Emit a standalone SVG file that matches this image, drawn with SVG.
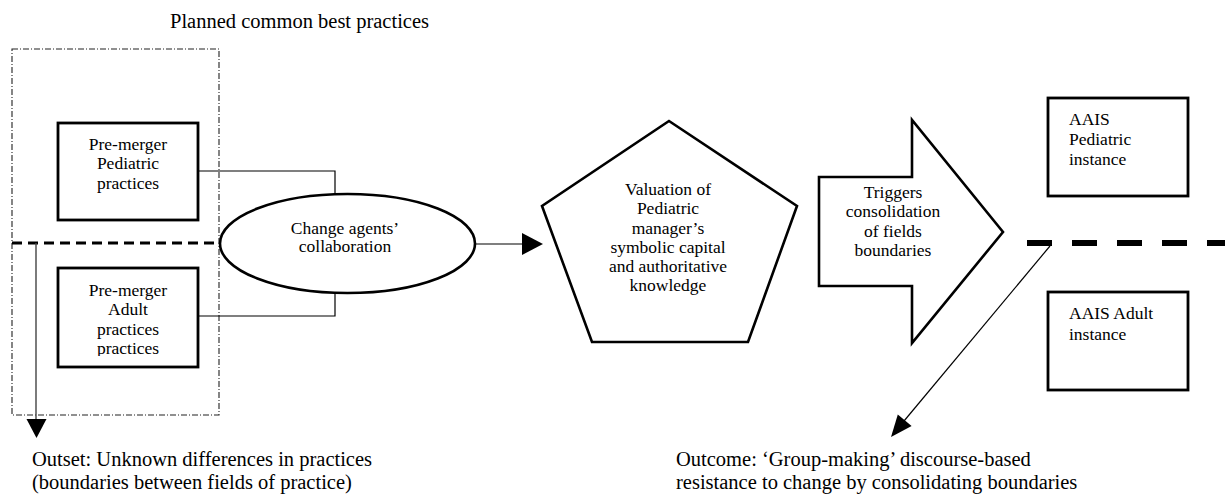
<svg xmlns="http://www.w3.org/2000/svg" width="1225" height="498" viewBox="0 0 1225 498">
<style>
text{font-family:"Liberation Serif","Times New Roman",serif;fill:#000}
.t{font-size:17.5px}
.big{font-size:20.5px}
.c{text-anchor:middle}
.box{fill:#fff;stroke:#000;stroke-width:2.8}
.shape{fill:#fff;stroke:#000;stroke-width:2.6}
.thin{fill:none;stroke:#000;stroke-width:1.2}
</style>
<defs>
<clipPath id="adultClip"><rect x="58" y="268" width="140" height="88"/></clipPath>
</defs>
<rect width="1225" height="498" fill="#fff"/>
<text class="big" x="170" y="28">Planned common best practices</text>
<g id="planned-frame">
<rect x="12" y="49" width="207" height="366" fill="none" stroke="#222" stroke-width="1.1" stroke-dasharray="6,2,1,2"/>
</g>
<g id="connectors">
<polyline class="thin" points="198,171 335,171 335,194"/>
<polyline class="thin" points="198,316 335,316 335,293"/>
<line x1="12" y1="243" x2="220" y2="243" stroke="#000" stroke-width="2.8" stroke-dasharray="10,6"/>
<line x1="36" y1="243" x2="36" y2="420" stroke="#444" stroke-width="1.4"/>
<polygon points="26.5,419 46.5,419 36.5,438" fill="#000"/>
<line class="thin" x1="475" y1="244" x2="523" y2="244"/>
<polygon points="522,233 543,244 522,255" fill="#000"/>
<line x1="1027" y1="243" x2="1225" y2="243" stroke="#000" stroke-width="6" stroke-dasharray="25,20"/>
<line class="thin" x1="1050" y1="246" x2="899" y2="427"/>
<polygon points="891,437 897.8,414.4 911.6,425.9" fill="#000"/>
</g>
<g id="pediatric-premerger">
<rect class="box" x="58" y="123" width="140" height="97"/>
<text class="t c" x="128" y="150">Pre-merger</text>
<text class="t c" x="128" y="169.3">Pediatric</text>
<text class="t c" x="128" y="188.5">practices</text>
</g>
<g id="adult-premerger">
<rect class="box" x="58" y="268" width="140" height="99"/>
<g clip-path="url(#adultClip)">
<text class="t c" x="128" y="296">Pre-merger</text>
<text class="t c" x="128" y="315">Adult</text>
<text class="t c" x="128" y="334.5">practices</text>
<text class="t c" x="128" y="354">practices</text>
</g>
</g>
<g id="change-agents">
<ellipse class="shape" cx="347.5" cy="243.5" rx="127.5" ry="49.5"/>
<text class="t c" x="345" y="234">Change agents’</text>
<text class="t c" x="345" y="252">collaboration</text>
</g>
<g id="valuation">
<polygon class="shape" points="669,121 797,206 748,342 592,342 542,206"/>
<text class="t c" x="668" y="195">Valuation of</text>
<text class="t c" x="668" y="214.3">Pediatric</text>
<text class="t c" x="668" y="233.5">manager’s</text>
<text class="t c" x="668" y="252.5">symbolic capital</text>
<text class="t c" x="668" y="271.7">and authoritative</text>
<text class="t c" x="668" y="290.8">knowledge</text>
</g>
<g id="triggers">
<polygon class="shape" points="819,177 912,177 912,120 1003,232 912,343 912,286 819,286"/>
<text class="t c" x="893" y="197.7">Triggers</text>
<text class="t c" x="893" y="217.2">consolidation</text>
<text class="t c" x="893" y="236.6">of fields</text>
<text class="t c" x="893" y="256">boundaries</text>
</g>
<g id="aais-pediatric">
<rect class="box" x="1048" y="98" width="140" height="98"/>
<text class="t" x="1069" y="125">AAIS</text>
<text class="t" x="1069" y="145">Pediatric</text>
<text class="t" x="1069" y="165">instance</text>
</g>
<g id="aais-adult">
<rect class="box" x="1048" y="292" width="140" height="98"/>
<text class="t" x="1069" y="318.5">AAIS Adult</text>
<text class="t" x="1069" y="339.5">instance</text>
</g>
<g id="outset">
<text class="big" x="32" y="466">Outset: Unknown differences in practices</text>
<text class="big" x="32" y="489">(boundaries between fields of practice)</text>
</g>
<g id="outcome">
<text class="big" x="676" y="466">Outcome: ‘Group-making’ discourse-based</text>
<text class="big" x="676" y="489">resistance to change by consolidating boundaries</text>
</g>
</svg>
